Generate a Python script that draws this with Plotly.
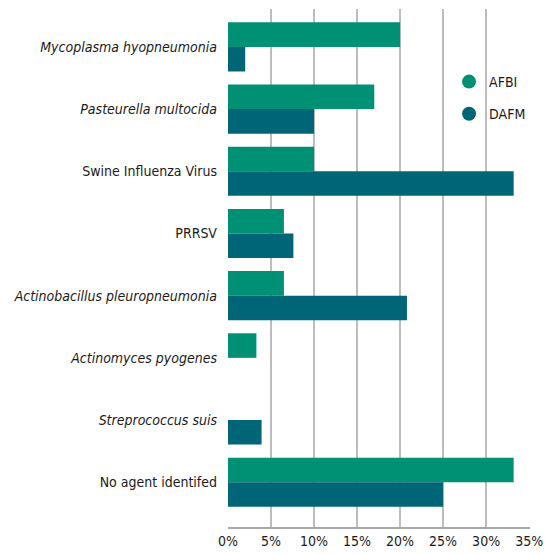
import plotly.graph_objects as go

# Share of cases by agent, AFBI vs DAFM (percent)
categories = [
    "Mycoplasma hyopneumonia",
    "Pasteurella multocida",
    "Swine Influenza Virus",
    "PRRSV",
    "Actinobacillus pleuropneumonia",
    "Actinomyces pyogenes",
    "Streprococcus suis",
    "No agent identifed",
]
italic_labels = [True, True, False, False, True, True, True, False]
afbi = [20.0, 17.0, 10.0, 6.5, 6.5, 3.3, 0.0, 33.2]
dafm = [2.0, 10.0, 33.2, 7.6, 20.8, 0.0, 3.9, 25.0]
x_ticks = [0, 5, 10, 15, 20, 25, 30, 35]
x_tick_labels = [f"{t}%" for t in x_ticks]

AFBI_COLOR = "#009175"
DAFM_COLOR = "#006677"
GRID = "#bdbdbd"
FONT = "Liberation Sans Narrow, DejaVu Sans Condensed, Arial Narrow, sans-serif"

tick_text = [f"<i>{c}</i>" if it else c for c, it in zip(categories, italic_labels)]

fig = go.Figure()
fig.add_trace(go.Bar(y=categories, x=afbi, orientation="h", name="AFBI",
                     marker=dict(color=AFBI_COLOR, line=dict(width=0)),
                     showlegend=False))
fig.add_trace(go.Bar(y=categories, x=dafm, orientation="h", name="DAFM",
                     marker=dict(color=DAFM_COLOR, line=dict(width=0)),
                     showlegend=False))
# circular legend markers
for name, col, grp in [("AFBI", AFBI_COLOR, "a"), ("DAFM", DAFM_COLOR, "b")]:
    fig.add_trace(go.Scatter(x=[None], y=[None], mode="markers", name=name,
                             legendgroup=grp,
                             marker=dict(symbol="circle", size=14, color=col)))

n = len(categories)
fig.update_layout(
    width=546, height=554,
    margin=dict(l=228, r=16, t=9, b=27),
    paper_bgcolor="white", plot_bgcolor="white",
    barmode="group", bargap=0.21, bargroupgap=0,
    font=dict(family=FONT, size=14, color="#1a1a1a"),
    legend=dict(x=0.732, y=0.89, xanchor="left", yanchor="top",
                bgcolor="rgba(0,0,0,0)", tracegroupgap=11,
                itemwidth=30, font=dict(size=14)),
)
fig.update_xaxes(
    range=[0, 35.1], tickmode="array", tickvals=x_ticks, ticktext=x_tick_labels,
    showgrid=True, gridcolor=GRID, gridwidth=1.5,
    showline=True, linecolor="#a8a8a8", linewidth=2,
    zeroline=False, ticks="", fixedrange=True, automargin=False,
)
fig.update_yaxes(
    type="category", categoryorder="array", categoryarray=categories,
    range=[n - 1 + 0.72, -0.61],
    tickmode="array", tickvals=categories, ticktext=tick_text,
    showgrid=False, showline=False, zeroline=False, ticks="",
    ticklabelstandoff=10, fixedrange=True, automargin=False,
)

fig.write_html("out.html")
